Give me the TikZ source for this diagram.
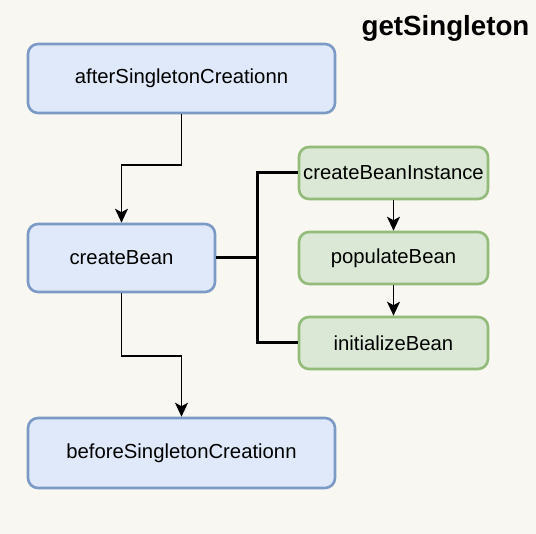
\documentclass[tikz,border=0pt]{standalone}
\usepackage{fontspec}
\setmainfont{Liberation Sans}
\usetikzlibrary{arrows.meta}
\definecolor{bg}{HTML}{F8F7F1}
\definecolor{bfill}{HTML}{DFE9FA}
\definecolor{bdraw}{HTML}{7C9AC6}
\definecolor{gfill}{HTML}{DAE8D5}
\definecolor{gdraw}{HTML}{93BB7A}
\tikzset{
  bluebox/.style={draw=bdraw, fill=bfill, line width=2.6pt, rounded corners=10pt, font=\fontsize{20.3}{24}\selectfont, inner sep=0pt},
  greenbox/.style={draw=gdraw, fill=gfill, line width=2.6pt, rounded corners=10pt, font=\fontsize{20.3}{24}\selectfont, inner sep=0pt, minimum width=189pt, minimum height=52pt},
  arr/.style={line width=1.5pt, -{Stealth[length=14pt,width=13pt,inset=3.5pt]}},
  thickline/.style={line width=3pt, line join=miter},
}
\begin{document}
\begin{tikzpicture}[x=1pt,y=-1pt]
\fill[bg] (0,0) rectangle (536,534);
\useasboundingbox (0,0) rectangle (536,534);
\node[font=\fontsize{27.7}{32}\selectfont\bfseries] (title) at (445.5,28) {getSingleton};
\node[bluebox, minimum width=307pt, minimum height=69pt] (b1) at (181.5,78.5) {afterSingletonCreationn};
\node[bluebox, minimum width=187pt, minimum height=68pt] (cb) at (121.5,258) {createBean};
\node[bluebox, minimum width=307pt, minimum height=70pt] (bs) at (181.5,453) {beforeSingletonCreationn};
\node[greenbox] (cbi) at (393.5,173) {createBeanInstance};
\node[greenbox] (pb) at (393.5,258) {populateBean};
\node[greenbox] (ib) at (393.5,343) {initializeBean};
\coordinate (j) at (257,258);
\draw[arr] (b1.south) -- (b1.south |- 0,165) -| (cb.north);
\draw[arr] (cb.south) -- (cb.south |- 0,356) -| (bs.north);
\draw[thickline] (cb.east) -- (j);
\draw[thickline] (cbi.west) -| (j) |- (ib.west);
\draw[arr] (cbi.south) -- (pb.north);
\draw[arr] (pb.south) -- (ib.north);
\end{tikzpicture}
\end{document}
